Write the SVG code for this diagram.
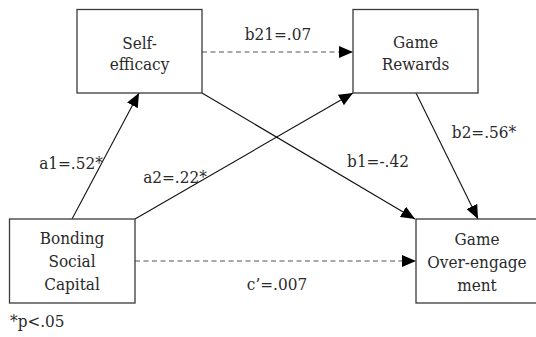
<svg xmlns="http://www.w3.org/2000/svg" width="536" height="337" viewBox="0 0 536 337">
  <style>
    .box { fill: #ffffff; stroke: #3a3a3a; stroke-width: 1.3; }
    text { font-family: "DejaVu Serif Condensed", "DejaVu Serif", serif; font-stretch: condensed; font-size: 17px; fill: #2a2a2a; }
    .mid { text-anchor: middle; }
    .edge { stroke: #111; stroke-width: 1.1; fill: none; }
    .dash { stroke: #555; stroke-dasharray: 5 3.5; }
  </style>
  <defs>
    <marker id="arrow" viewBox="0 0 14 12" refX="14" refY="6" markerWidth="14" markerHeight="12" markerUnits="userSpaceOnUse" orient="auto">
      <path d="M0,0 L14,6 L0,12 Z" fill="#000"/>
    </marker>
  </defs>

  <g id="connectors">
    <!-- a1: Bonding -> Self-efficacy -->
    <line class="edge" x1="72" y1="219" x2="139" y2="93" marker-end="url(#arrow)"/>
    <!-- a2: Bonding -> Game Rewards -->
    <line class="edge" x1="135" y1="219" x2="353" y2="93" marker-end="url(#arrow)"/>
    <!-- b1: Self-efficacy -> Over-engagement -->
    <line class="edge" x1="202" y1="93" x2="415" y2="219" marker-end="url(#arrow)"/>
    <!-- b2: Game Rewards -> Over-engagement -->
    <line class="edge" x1="416" y1="93" x2="478" y2="219" marker-end="url(#arrow)"/>
    <!-- b21: Self-efficacy -> Game Rewards (n.s.) -->
    <line class="edge dash" x1="202" y1="52" x2="353" y2="52" marker-end="url(#arrow)"/>
    <!-- c': direct effect (n.s.) -->
    <line class="edge dash" x1="135" y1="261" x2="416" y2="261" marker-end="url(#arrow)"/>

    <text class="mid" x="278" y="40">b21=.07</text>
    <text class="mid" x="71" y="169">a1=.52*</text>
    <text class="mid" x="175" y="183">a2=.22*</text>
    <text class="mid" x="378" y="167">b1=-.42</text>
    <text class="mid" x="484" y="138">b2=.56*</text>
    <text class="mid" x="277" y="290">c’=.007</text>
  </g>

  <g id="self-efficacy">
    <rect class="box" x="77" y="9.5" width="125" height="83.5"/>
    <text class="mid" x="139.5" y="49">Self-</text>
    <text class="mid" x="139.5" y="70">efficacy</text>
  </g>

  <g id="game-rewards">
    <rect class="box" x="353" y="9.5" width="125" height="83.5"/>
    <text class="mid" x="415.5" y="48">Game</text>
    <text class="mid" x="415.5" y="70">Rewards</text>
  </g>

  <g id="bonding-social-capital">
    <rect class="box" x="9.5" y="219" width="125.5" height="84"/>
    <text class="mid" x="72" y="244">Bonding</text>
    <text class="mid" x="72" y="267">Social</text>
    <text class="mid" x="72" y="290">Capital</text>
  </g>

  <g id="game-over-engagement">
    <rect class="box" x="416" y="219" width="122" height="84"/>
    <text class="mid" x="477" y="245">Game</text>
    <text class="mid" x="477" y="268">Over-engage</text>
    <text class="mid" x="477" y="291">ment</text>
  </g>

  <text x="10" y="327">*p&lt;.05</text>
</svg>
